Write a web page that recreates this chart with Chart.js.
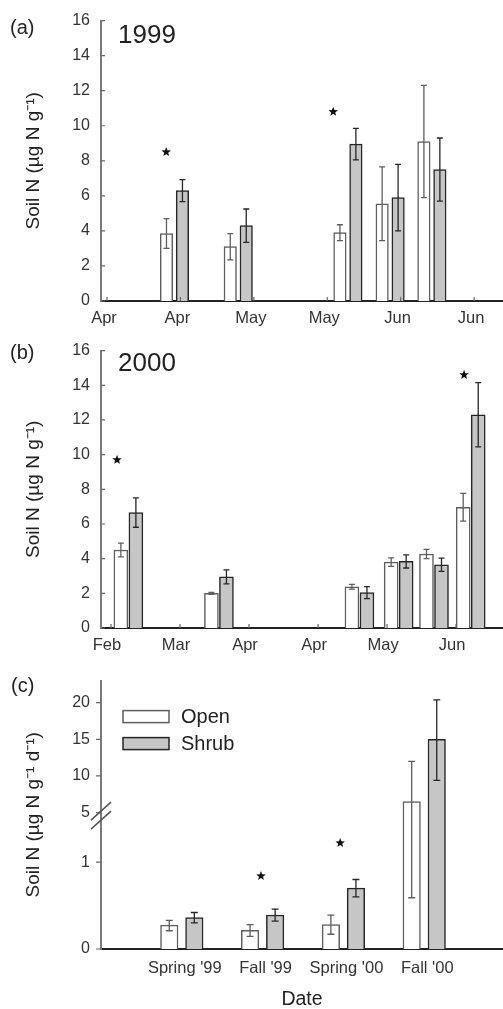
<!DOCTYPE html>
<html>
<head>
<meta charset="utf-8">
<script src="https://cdn.jsdelivr.net/npm/chart.js@4.4.1/dist/chart.umd.min.js"></script>
<style>
  html, body { margin: 0; padding: 0; background: #fff; overflow: hidden; }
  body { width: 503px; height: 1009px; position: relative; font-family: "Liberation Sans", Arial, sans-serif; color: #222; }
  canvas { position: absolute; left: 0; }
  .lbl { position: absolute; line-height: 1; white-space: nowrap; }
</style>
</head>
<body>
<canvas id="chartA" width="503" height="330" style="top:0"></canvas>
<canvas id="chartB" width="503" height="330" style="top:330px"></canvas>
<canvas id="chartC" width="503" height="349" style="top:660px"></canvas>

<div class="lbl" style="left:10px; top:17px; font-size:20px">(a)</div>
<div class="lbl" style="left:118px; top:21px; font-size:26px">1999</div>
<div class="lbl" style="left:10px; top:342px; font-size:20px">(b)</div>
<div class="lbl" style="left:118px; top:349px; font-size:26px">2000</div>
<div class="lbl" style="left:11px; top:675px; font-size:20px">(c)</div>

<script>
// Panel (a), 1999 -- dates are days from the first x tick
const daysA = [14.7, 28.6, 52.5, 61.7, 70.8];
const openA = [3.85, 3.1, 3.9, 5.55, 9.1];
const openErrA = [0.85, 0.75, 0.45, 2.1, 3.2];
const shrubA = [6.3, 4.3, 8.95, 5.9, 7.5];
const shrubErrA = [0.63, 0.95, 0.9, 1.9, 1.8];
const tickDaysA = [0, 16, 32, 48, 64, 80];
const tickLabelsA = ['Apr', 'Apr', 'May', 'May', 'Jun', 'Jun'];
const starDaysA = [12.9, 49.3];
const starYA = [8.5, 10.8];

// Panel (b), 2000
const daysB = [6.3, 39.1, 90.0, 104.2, 117.0, 130.3];
const openB = [4.5, 2.0, 2.38, 3.8, 4.27, 6.96];
const openErrB = [0.4, 0.06, 0.14, 0.24, 0.27, 0.8];
const shrubB = [6.66, 2.95, 2.04, 3.84, 3.65, 12.3];
const shrubErrB = [0.85, 0.4, 0.35, 0.38, 0.38, 1.85];
const tickDaysB = [0, 25, 50, 75, 100, 125];
const tickLabelsB = ['Feb', 'Mar', 'Apr', 'Apr', 'May', 'Jun'];
const starDaysB = [2.2, 127.9];
const starYB = [9.7, 14.6];

const yTicksAB = [0, 2, 4, 6, 8, 10, 12, 14, 16];

// Panel (c), rates per season (error bars read as low / high ends)
const seasonsC = ["Spring '99", "Fall '99", "Spring '00", "Fall '00"];
const openC = [0.274, 0.215, 0.281, 6.5];
const openLowC = [0.21, 0.145, 0.17, 0.59];
const openHighC = [0.33, 0.28, 0.39, 12.0];
const shrubC = [0.361, 0.391, 0.70, 15.0];
const shrubLowC = [0.30, 0.32, 0.60, 9.4];
const shrubHighC = [0.42, 0.46, 0.80, 20.4];
const yTicksC = [0, 1, 5, 10, 15, 20];
const starSeasonC = [1.98, 2.96];
const starYC = [0.84, 1.22];

const FONT = '"Liberation Sans", Arial, Helvetica, sans-serif';
const OPEN_EDGE = '#5e5e5e';
const SHRUB_EDGE = '#262626';
const SHRUB_FILL = '#c6c6c6';

// broken y axis for (c): 0..1.5 kept as is, 5..20 squeezed above the break
const LOW_TOP = 1.5, HIGH_BASE = 5, HIGH_START = 1.57, HIGH_SCALE = 0.0843;
function brk(v) {
    if (v <= LOW_TOP) return v;
    if (v >= HIGH_BASE) return HIGH_START + (v - HIGH_BASE) * HIGH_SCALE;
    return LOW_TOP + (v - LOW_TOP) * (HIGH_START - LOW_TOP) / (HIGH_BASE - LOW_TOP);
}

// error bars, significance stars, inside tick marks, legend, axis break
const decor = {
    id: 'decor',
    afterDatasetsDraw(chart, args, opts) {
        const ctx = chart.ctx;
        const x = chart.scales.x, y = chart.scales.y;
        const area = chart.chartArea;
        ctx.save();

        chart.data.datasets.forEach((ds, di) => {
            if (!ds.err) return;
            const meta = chart.getDatasetMeta(di);
            ctx.strokeStyle = ds.borderColor;
            ctx.lineWidth = 1.3;
            meta.data.forEach((bar, i) => {
                const y1 = y.getPixelForValue(ds.err[i][0]);
                const y2 = y.getPixelForValue(ds.err[i][1]);
                const c = opts.cap;
                ctx.beginPath();
                ctx.moveTo(bar.x, y1); ctx.lineTo(bar.x, y2);
                ctx.moveTo(bar.x - c, y1); ctx.lineTo(bar.x + c, y1);
                ctx.moveTo(bar.x - c, y2); ctx.lineTo(bar.x + c, y2);
                ctx.stroke();
            });
        });

        // stars
        ctx.fillStyle = '#111';
        opts.starX.forEach((sx, i) => {
            const cx = x.getPixelForValue(sx), cy = y.getPixelForValue(opts.starY[i]);
            ctx.beginPath();
            for (let k = 0; k < 10; k++) {
                const r = k % 2 ? 2.1 : 5;
                const a = -Math.PI / 2 + k * Math.PI / 5;
                ctx.lineTo(cx + r * Math.cos(a), cy + r * Math.sin(a));
            }
            ctx.closePath();
            ctx.fill();
        });

        // tick marks
        ctx.strokeStyle = '#666';
        ctx.lineWidth = 1.2;
        ctx.beginPath();
        y.ticks.forEach(t => {
            const py = y.getPixelForValue(t.value);
            ctx.moveTo(area.left, py);
            ctx.lineTo(area.left + opts.yTick, py);
        });
        if (opts.xTicks) {
            x.ticks.forEach(t => {
                const px = x.getPixelForValue(t.value);
                ctx.moveTo(px, area.bottom);
                ctx.lineTo(px, area.bottom - 4);
            });
        }
        ctx.stroke();

        if (opts.axisBreak) {
            const cy = y.getPixelForValue((LOW_TOP + HIGH_START) / 2);
            const cx = area.left;
            ctx.strokeStyle = '#555';
            ctx.lineWidth = 1.5;
            ctx.beginPath();
            [-4.5, 4.5].forEach(d => {
                ctx.moveTo(cx - 10, cy + d + 9);
                ctx.lineTo(cx + 10, cy + d - 9);
            });
            ctx.stroke();
        }

        if (opts.legend) {
            ctx.font = '20px ' + FONT;
            ctx.textBaseline = 'middle';
            ctx.textAlign = 'left';
            chart.data.datasets.forEach((ds, i) => {
                const bx = area.left + 22, by = area.top + 30 + i * 27;
                ctx.fillStyle = ds.backgroundColor;
                ctx.fillRect(bx, by, 46, 12);
                ctx.strokeStyle = ds.borderColor;
                ctx.lineWidth = 1.5;
                ctx.strokeRect(bx, by, 46, 12);
                ctx.fillStyle = '#222';
                ctx.fillText(ds.label, bx + 58, by + 7);
            });
        }
        ctx.restore();
    }
};

function barSet(label, xs, ys, errs, shift, thick, open) {
    return {
        label: label,
        data: xs.map((d, i) => ({ x: d + shift, y: ys[i] })),
        err: errs,
        grouped: false,
        barThickness: thick,
        backgroundColor: open ? '#ffffff' : SHRUB_FILL,
        borderColor: open ? OPEN_EDGE : SHRUB_EDGE,
        borderWidth: 1.5
    };
}

function yTitle(text) {
    return { display: true, text: text, color: '#222', font: { family: FONT, size: 19 }, padding: { top: 22, bottom: 0 } };
}

function makeChart(id, cfg) {
    return new Chart(document.getElementById(id), {
        type: 'bar',
        data: { datasets: cfg.datasets },
        options: {
            responsive: false,
            animation: false,
            devicePixelRatio: 1,
            layout: { padding: { top: cfg.padTop, left: 0, right: 0, bottom: 0 } },
            plugins: {
                legend: { display: false },
                tooltip: { enabled: false },
                decor: cfg.decor
            },
            scales: {
                x: {
                    type: 'linear',
                    offset: false,
                    min: cfg.xMin, max: cfg.xMax,
                    afterFit: s => { s.height = cfg.xHeight; },
                    afterBuildTicks: s => { s.ticks = cfg.xTicks.map(v => ({ value: v })); },
                    grid: { display: false, drawTicks: false, offset: false },
                    border: { display: true, color: '#222', width: 2 },
                    ticks: {
                        color: '#333', font: { family: FONT, size: 16.5 },
                        padding: cfg.xPad, labelOffset: cfg.labelOffset,
                        autoSkip: false, maxRotation: 0,
                        callback: (v, i) => cfg.xLabels[i]
                    },
                    title: cfg.xTitle || { display: false }
                },
                y: {
                    min: 0, max: cfg.yMax,
                    afterFit: s => { s.width = 101; },
                    afterBuildTicks: s => { s.ticks = cfg.yTicks.map(v => ({ value: v })); },
                    grid: { display: false, drawTicks: false },
                    border: { display: true, color: '#7a7a7a', width: 2 },
                    ticks: {
                        color: '#333', font: { family: FONT, size: 16 }, padding: 11,
                        callback: (v, i) => cfg.yLabels[i]
                    },
                    title: cfg.yTitle
                }
            }
        },
        plugins: [decor]
    });
}

// (a)
makeChart('chartA', {
    datasets: [
        barSet('Open', daysA, openA, openErrA.map((e, i) => [openA[i] - e, openA[i] + e]), -1.74, 12.5, true),
        barSet('Shrub', daysA, shrubA, shrubErrA.map((e, i) => [shrubA[i] - e, shrubA[i] + e]), 1.74, 12.5, false)
    ],
    padTop: 19, xHeight: 29, xPad: 8, labelOffset: -3,
    xMin: -1.31, xMax: 86.3, xTicks: tickDaysA, xLabels: tickLabelsA,
    yMax: 16, yTicks: yTicksAB, yLabels: yTicksAB.map(String),
    yTitle: yTitle('Soil N (µg N g⁻¹)'),
    decor: { cap: 3, starX: starDaysA, starY: starYA, yTick: 4, xTicks: true }
});

// (b)
makeChart('chartB', {
    datasets: [
        barSet('Open', daysB, openB, openErrB.map((e, i) => [openB[i] - e, openB[i] + e]), -2.72, 14, true),
        barSet('Shrub', daysB, shrubB, shrubErrB.map((e, i) => [shrubB[i] - e, shrubB[i] + e]), 2.72, 14, false)
    ],
    padTop: 16, xHeight: 32, xPad: 8, labelOffset: -4,
    xMin: -3.62, xMax: 142.0, xTicks: tickDaysB, xLabels: tickLabelsB,
    yMax: 16, yTicks: yTicksAB, yLabels: yTicksAB.map(String),
    yTitle: yTitle('Soil N (µg N g⁻¹)'),
    decor: { cap: 3, starX: starDaysB, starY: starYB, yTick: 4, xTicks: true }
});

// (c)
const seasonPos = seasonsC.map((s, i) => i + 1);
makeChart('chartC', {
    datasets: [
        barSet('Open', seasonPos, openC.map(brk), openC.map((v, i) => [brk(openLowC[i]), brk(openHighC[i])]), -0.155, 17.5, true),
        barSet('Shrub', seasonPos, shrubC.map(brk), shrubC.map((v, i) => [brk(shrubLowC[i]), brk(shrubHighC[i])]), 0.155, 17.5, false)
    ],
    padTop: 7, xHeight: 60, xPad: 10, labelOffset: 3,
    xMin: 0, xMax: 4.975, xTicks: seasonPos, xLabels: seasonsC,
    xTitle: { display: true, text: 'Date', color: '#222', font: { family: FONT, size: 19.5, lineHeight: 1 }, padding: { top: 0, bottom: 0 } },
    yMax: 3.089, yTicks: yTicksC.map(brk), yLabels: yTicksC.map(String),
    yTitle: yTitle('Soil N (µg N g⁻¹ d⁻¹)'),
    decor: { cap: 3.5, starX: starSeasonC, starY: starYC.map(brk), yTick: -5, xTicks: false, axisBreak: true, legend: true }
});
</script>
</body>
</html>
